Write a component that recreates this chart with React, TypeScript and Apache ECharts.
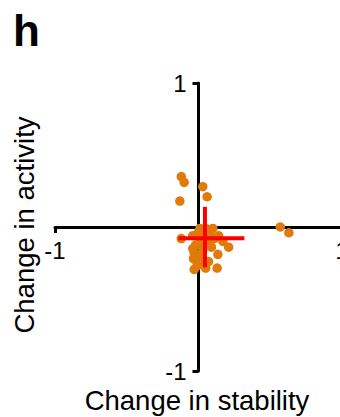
import React, { useEffect, useRef } from "react";
import * as echarts from "echarts";

// Scatter values: change in stability (x), change in activity (y)
const stabilityChange = [
  -0.12, -0.10, -0.13, 0.03, 0.06, 0.57, 0.63, -0.12, 0.01, 0.05,
  0.10, 0.14, 0.17, 0.21, 0.135, 0.13, 0.05, -0.03, 0.07, -0.02,
  -0.03, -0.02, 0.02, 0.03, 0.06, 0.01, -0.04, 0.09, 0.04, 0.0,
  -0.04, -0.035, 0.0, 0.02, 0.08, 0.11, -0.01,
];
const activityChange = [
  0.35, 0.31, 0.18, 0.28, 0.21, 0.0, -0.04, -0.08, -0.01, -0.01,
  -0.01, -0.06, -0.10, -0.14, -0.19, -0.285, -0.285, -0.295, -0.24, -0.125,
  -0.18, -0.23, -0.075, -0.16, -0.11, -0.2, -0.06, -0.14, -0.245, -0.035,
  -0.15, -0.22, -0.12, -0.19, -0.05, -0.08, -0.27,
];

// Mean and error bars (red cross)
const meanStability = 0.045;
const meanActivity = -0.078;
const stabilityErr = [-0.14, 0.32];
const activityErr = [-0.28, 0.14];

// Axis ticks
const tickValues = [-1, 1];
const axisMin = -1;
const axisMax = 1;

const FONT = "'Liberation Sans', Arial, Helvetica, sans-serif";

const GRID_W = 287;
const GRID_H = 288;

export default function App() {
  const ref = useRef<HTMLDivElement>(null);

  useEffect(() => {
    if (!ref.current) return;
    const chart = echarts.init(ref.current, undefined, { renderer: "svg" });
    const points = stabilityChange.map((x, i) => [x, activityChange[i]]);
    const axisCommon = {
      type: "value" as const,
      min: axisMin,
      max: axisMax,
      interval: 1,
      splitLine: { show: false },
      axisLine: { show: true, onZero: false, lineStyle: { color: "#000", width: 3 } },
      axisTick: {
        show: true,
        inside: false,
        length: 6,
        customValues: tickValues,
        lineStyle: { color: "#000", width: 3 },
      },
    };
    chart.setOption({
      animation: false,
      backgroundColor: "#fff",
      grid: {
        left: 55,
        top: 83,
        width: GRID_W,
        height: GRID_H,
        containLabel: false,
        outerBoundsMode: "none",
      },
      xAxis: {
        ...axisCommon,
        position: "bottom",
        offset: -GRID_H / 2,
        axisLabel: {
          customValues: tickValues,
          fontSize: 24,
          color: "#000",
          fontFamily: FONT,
          margin: 11,
          showMinLabel: true,
          showMaxLabel: true,
        },
      },
      yAxis: {
        ...axisCommon,
        position: "left",
        offset: -GRID_W / 2,
        axisLabel: {
          customValues: tickValues,
          fontSize: 24,
          color: "#000",
          fontFamily: FONT,
          margin: 12,
        },
      },
      graphic: [
        {
          type: "text",
          left: 13,
          top: 8,
          style: { text: "h", font: `bold 44px ${FONT}`, fill: "#000" },
        },
        {
          type: "text",
          x: 197,
          y: 400,
          style: {
            text: "Change in stability",
            font: `27.5px ${FONT}`,
            fill: "#000",
            align: "center",
            verticalAlign: "middle",
          },
        },
        {
          type: "text",
          x: 24,
          y: 225,
          rotation: Math.PI / 2,
          style: {
            text: "Change in activity",
            font: `27.5px ${FONT}`,
            fill: "#000",
            align: "center",
            verticalAlign: "middle",
          },
        },
      ],
      series: [
        {
          type: "scatter",
          data: points,
          symbolSize: 9.5,
          itemStyle: { color: "#DF7A0B", opacity: 1 },
          z: 2,
        },
        {
          type: "line",
          data: [
            [stabilityErr[0], meanActivity],
            [stabilityErr[1], meanActivity],
          ],
          symbol: "none",
          lineStyle: { color: "#FF0000", width: 4 },
          z: 3,
        },
        {
          type: "line",
          data: [
            [meanStability, activityErr[0]],
            [meanStability, activityErr[1]],
          ],
          symbol: "none",
          lineStyle: { color: "#FF0000", width: 4 },
          z: 3,
        },
      ],
    });
    return () => chart.dispose();
  }, []);

  return (
    <div
      ref={ref}
      style={{ position: "absolute", left: 0, top: 0, width: 340, height: 417 }}
    />
  );
}
